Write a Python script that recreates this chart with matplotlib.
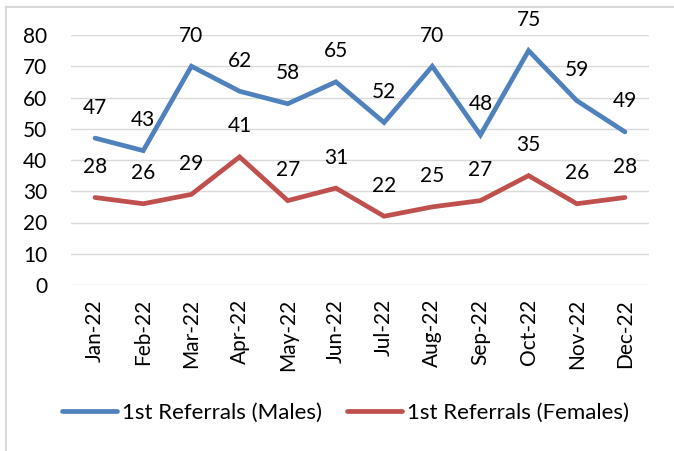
import matplotlib
matplotlib.use("Agg")
import matplotlib.pyplot as plt
from matplotlib.lines import Line2D

months = ["Jan-22", "Feb-22", "Mar-22", "Apr-22", "May-22", "Jun-22",
          "Jul-22", "Aug-22", "Sep-22", "Oct-22", "Nov-22", "Dec-22"]
males = [47, 43, 70, 62, 58, 65, 52, 70, 48, 75, 59, 49]
females = [28, 26, 29, 41, 27, 31, 22, 25, 27, 35, 26, 28]
yticks = [0, 10, 20, 30, 40, 50, 60, 70, 80]

plt.rcParams['font.family'] = ['Lato', 'DejaVu Sans']
FS = 15

fig = plt.figure(figsize=(6.74, 4.51), dpi=100)
ax = fig.add_axes([71/674, 1-285/451, (649-71)/674, (285-35)/451])

blue = "#4F81BD"
red = "#C0504D"
x = list(range(len(months)))
l1, = ax.plot(x, males, color=blue, lw=3.4, solid_joinstyle='miter', solid_capstyle='round',
              label="1st Referrals (Males)", zorder=3)
l2, = ax.plot(x, females, color=red, lw=3.4, solid_joinstyle='miter', solid_capstyle='round',
              label="1st Referrals (Females)", zorder=3)

for xi, v in zip(x, males):
    ax.annotate(str(v), (xi, v), xytext=(0, 22), textcoords='offset points',
                ha='center', va='center', fontsize=FS, color='#000000')
for xi, v in zip(x, females):
    ax.annotate(str(v), (xi, v), xytext=(0, 22), textcoords='offset points',
                ha='center', va='center', fontsize=FS, color='#000000')

ax.set_xlim(-0.5, len(months) - 0.5)
ax.set_ylim(0, 80)
ax.set_yticks(yticks)
ax.set_yticklabels([str(t) for t in yticks], fontsize=FS)
ax.set_xticks(x)
ax.set_xticklabels(months, rotation=90, fontsize=FS)
ax.tick_params(axis='x', length=0, pad=10)
ax.tick_params(axis='y', length=0, pad=17)
ax.grid(axis='y', color='#D9D9D9', lw=1.0)
ax.set_axisbelow(True)
for s in ax.spines.values():
    s.set_visible(False)

fig.legend(handles=[l1, l2], loc='center', bbox_to_anchor=(345.5/674, 1-413/451),
           ncol=2, frameon=False, fontsize=16, handlelength=2.48, handletextpad=0.22,
           columnspacing=1.13)

fig.add_artist(Line2D([6/674, 6/674], [0, 1-7/451], color='#D9D9D9', lw=1.5,
                      transform=fig.transFigure))
fig.add_artist(Line2D([6/674, 1], [1-7/451, 1-7/451], color='#D9D9D9', lw=1.5,
                      transform=fig.transFigure))

fig.savefig("out.png", dpi=100)
